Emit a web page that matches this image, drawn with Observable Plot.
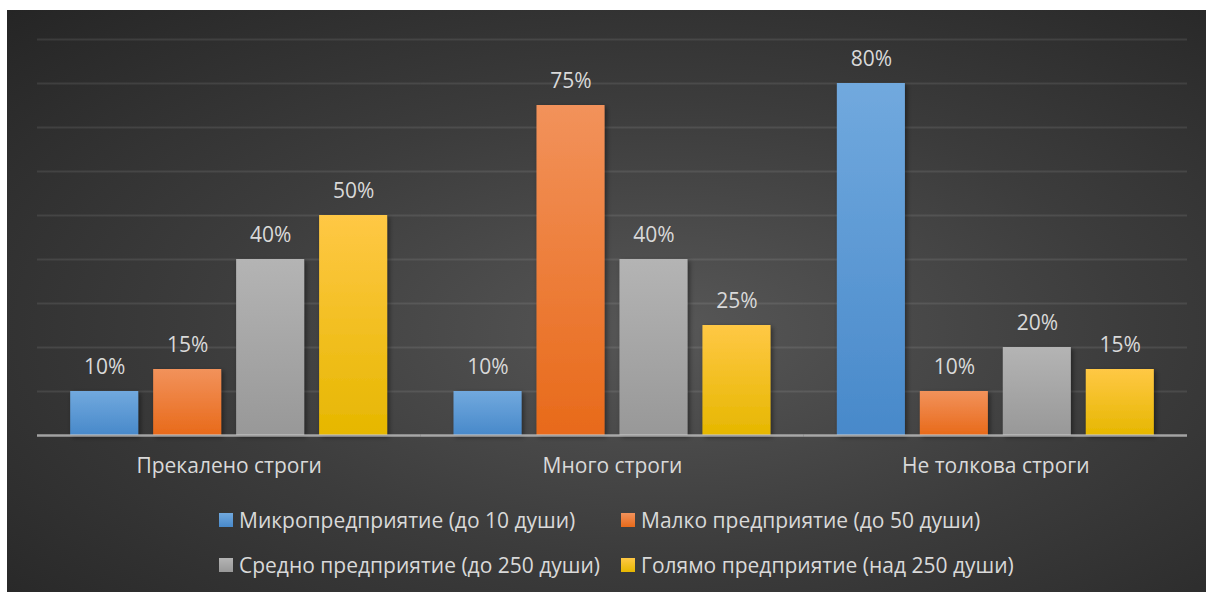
<!DOCTYPE html>
<html>
<head>
<meta charset="utf-8">
<script src="https://cdn.jsdelivr.net/npm/d3@7"></script>
<script src="https://cdn.jsdelivr.net/npm/@observablehq/plot@0.6"></script>
<style>
  html, body { margin: 0; padding: 0; background: #ffffff; width: 1206px; height: 592px; overflow: hidden; }
  #chart {
    position: absolute; left: 7px; top: 10px; width: 1199px; height: 582px;
    background: radial-gradient(ellipse farthest-corner at 55% 55%, #575757 0%, #3c3c3c 50%, #252525 100%);
    font-family: "Open Sans", sans-serif; color: #d9d9d9;
  }
  #chart svg { position: absolute; left: 0; top: 0; overflow: visible; }
  .leg { position: absolute; display: flex; align-items: center; font-size: 21px; color: #d9d9d9; white-space: nowrap; height: 30px; }
  .leg .sw { width: 14px; height: 14px; margin-right: 6px; }
</style>
</head>
<body>
<div id="chart"></div>
<script>
// ---- data ----
const categories = ["Прекалено строги", "Много строги", "Не толкова строги"];
const series = [
  "Микропредприятие (до 10 души)",
  "Малко предприятие (до 50 души)",
  "Средно предприятие (до 250 души)",
  "Голямо предприятие (над 250 души)"
];
const micro  = [10, 10, 80];
const small  = [15, 75, 10];
const medium = [40, 40, 20];
const large  = [50, 25, 15];
const gridValues = [10, 20, 30, 40, 50, 60, 70, 80, 90];

// ---- styles ----
const gradTop    = ["#71a9de", "#f2925b", "#b4b4b4", "#ffc845"];
const gradBottom = ["#4889ca", "#e86a1a", "#989898", "#e6b700"];

const valuesBySeries = [micro, small, medium, large];
const rows = [];
series.forEach((s, si) => {
  categories.forEach((c, ci) => rows.push({cat: c, series: s, value: valuesBySeries[si][ci]}));
});

const chart = document.getElementById("chart");

const plot = Plot.plot({
  width: 1199,
  height: 475,
  marginLeft: 30,
  marginRight: 19,
  marginTop: 29,
  marginBottom: 50,
  style: {background: "transparent", fontFamily: "'Open Sans', sans-serif", color: "#d9d9d9", overflow: "visible"},
  fx: {domain: categories, padding: 0, label: null, round: false},
  x: {domain: series, paddingInner: 0.18, paddingOuter: 0.4, axis: null, round: false},
  y: {domain: [0, 90], axis: null},
  color: {domain: series, range: series.map((s, i) => `url(#grad${i})`)},
  marks: [
    Plot.ruleY(gridValues, {stroke: "#ffffff", strokeOpacity: 0.09, strokeWidth: 2}),
    Plot.barY(rows, {fx: "cat", x: "series", y: "value", fill: "series", insetLeft: 0, insetRight: 0}),
    Plot.ruleY([0], {stroke: "#c8c8c8", strokeOpacity: 0.75, strokeWidth: 2.5}),
    Plot.text(rows, {fx: "cat", x: "series", y: "value", text: d => d.value + "%", dy: -18, lineAnchor: "bottom", fill: "#d9d9d9", fontSize: 21}),
    Plot.axisFx({anchor: "bottom", tickSize: 0, tickPadding: 23, fontSize: 21, label: null, fill: "#d9d9d9"})
  ]
});

// gradients
const svg = d3.select(plot);
const defs = svg.insert("defs", ":first-child");
series.forEach((s, i) => {
  const g = defs.append("linearGradient").attr("id", `grad${i}`).attr("x1", 0).attr("y1", 0).attr("x2", 0).attr("y2", 1);
  g.append("stop").attr("offset", "0%").attr("stop-color", gradTop[i]);
  g.append("stop").attr("offset", "100%").attr("stop-color", gradBottom[i]);
});
const sh = defs.append("filter").attr("id", "shadow").attr("x", "-20%").attr("y", "-20%").attr("width", "140%").attr("height", "140%");
sh.append("feDropShadow").attr("dx", 2).attr("dy", 2).attr("stdDeviation", 2.5).attr("flood-color", "#000").attr("flood-opacity", 0.45);
svg.selectAll("g[aria-label='bar'] rect").attr("filter", "url(#shadow)");

chart.appendChild(plot);

// legend
const legPos = [
  {left: 212, top: 495}, {left: 614, top: 495},
  {left: 212, top: 540}, {left: 614, top: 540}
];
series.forEach((s, i) => {
  const item = document.createElement("div");
  item.className = "leg";
  item.style.left = legPos[i].left + "px";
  item.style.top = legPos[i].top + "px";
  const sw = document.createElement("div");
  sw.className = "sw";
  sw.style.background = `linear-gradient(${gradTop[i]}, ${gradBottom[i]})`;
  const tx = document.createElement("span");
  tx.textContent = s;
  item.appendChild(sw);
  item.appendChild(tx);
  chart.appendChild(item);
});
</script>
</body>
</html>
